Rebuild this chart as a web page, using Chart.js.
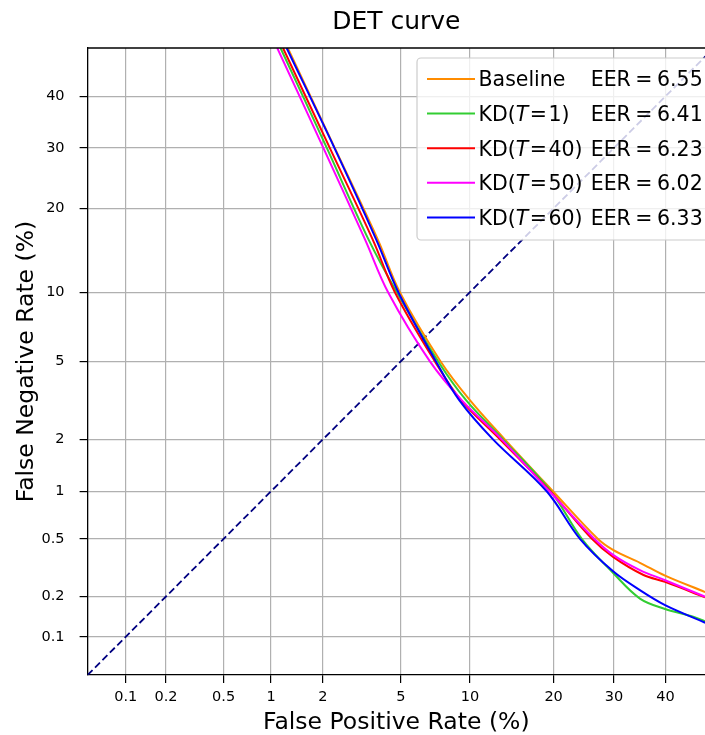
<!DOCTYPE html>
<html><head><meta charset="utf-8">
<script src="https://cdn.jsdelivr.net/npm/chart.js@4.4.0/dist/chart.umd.min.js"></script>
<style>html,body{margin:0;padding:0;background:#fff;}#wrap{width:705px;height:735px;}</style>
</head><body><div id="wrap"><canvas id="c" width="705" height="735"></canvas></div>
<script>
// ---- data (percent) ----
const tickValues = [0.1, 0.2, 0.5, 1, 2, 5, 10, 20, 30, 40];
const tickLabels = ['0.1', '0.2', '0.5', '1', '2', '5', '10', '20', '30', '40'];
const seriesNames = ['Baseline', 'KD(T=1)', 'KD(T=40)', 'KD(T=50)', 'KD(T=60)'];
const temperatures = [null, 1, 40, 50, 60];
const eerValues = ['6.55', '6.41', '6.23', '6.02', '6.33'];

const baselineFPR = [1.26, 2.32, 3.88, 4.95, 7.56, 10.0, 13.6, 19.9, 27.1, 29.9, 34.9, 39.9, 48.2];
const baselineFNR = [50, 30, 15.7, 10, 5, 3.23, 2, 1, 0.5, 0.42, 0.345, 0.281, 0.215];

const kd1FPR = [1.14, 2.10, 3.49, 4.79, 7.38, 9.65, 13.4, 19.6, 24.4, 29.9, 34.9, 39.9, 45.7, 48.2];
const kd1FNR = [50, 30, 15.7, 10, 5, 3.23, 2, 1, 0.5, 0.292, 0.193, 0.162, 0.142, 0.131];

const kd40FPR = [1.18, 2.18, 3.66, 4.69, 7.14, 9.2, 13.06, 19.5, 26.1, 29.9, 35.6, 39.9, 48.2];
const kd40FNR = [50, 30, 15.7, 10, 5, 3.23, 2, 1, 0.5, 0.377, 0.284, 0.254, 0.197];

const kd50FPR = [1.09, 2.01, 3.35, 4.35, 6.79, 9.26, 13.25, 19.4, 26.5, 29.9, 34.9, 39.9, 48.2];
const kd50FNR = [50, 30, 15.7, 10, 5, 3.23, 2, 1, 0.5, 0.389, 0.307, 0.261, 0.199];

const kd60FPR = [1.24, 2.31, 3.81, 4.87, 7.22, 9.05, 12.3, 19.0, 24.1, 29.9, 34.9, 39.9, 48.2];
const kd60FNR = [50, 30, 15.7, 10, 5, 3.23, 2, 1, 0.5, 0.300, 0.222, 0.173, 0.128];

const diagonalPct = [0.05, 50];

// ---- styles ----
const seriesColors = ['#ff8c00', '#32cd32', '#ff0000', '#ff00ff', '#0000ff'];
const FONT = "'DejaVu Sans', 'Liberation Sans', sans-serif";

// inverse normal CDF (probit) used as the axis transform
function probit(p) {
  const a = [-3.969683028665376e+01, 2.209460984245205e+02, -2.759285104469687e+02, 1.383577518672690e+02, -3.066479806614716e+01, 2.506628277459239e+00];
  const b = [-5.447609879822406e+01, 1.615858368580409e+02, -1.556989798598866e+02, 6.680131188771972e+01, -1.328068155288572e+01];
  const c = [-7.784894002430293e-03, -3.223964580411365e-01, -2.400758277161838e+00, -2.549671660007613e+00, 4.374664141464968e+00, 2.938163982698783e+00];
  const d = [7.784695709041462e-03, 3.224671290700398e-01, 2.445134137142996e+00, 3.754408661907416e+00];
  const pl = 0.02425, ph = 1 - pl;
  let q, r;
  if (p < pl) { q = Math.sqrt(-2 * Math.log(p)); return (((((c[0]*q+c[1])*q+c[2])*q+c[3])*q+c[4])*q+c[5]) / ((((d[0]*q+d[1])*q+d[2])*q+d[3])*q+1); }
  if (p <= ph) { q = p - 0.5; r = q*q; return (((((a[0]*r+a[1])*r+a[2])*r+a[3])*r+a[4])*r+a[5])*q / (((((b[0]*r+b[1])*r+b[2])*r+b[3])*r+b[4])*r+1); }
  q = Math.sqrt(-2 * Math.log(1 - p)); return -(((((c[0]*q+c[1])*q+c[2])*q+c[3])*q+c[4])*q+c[5]) / ((((d[0]*q+d[1])*q+d[2])*q+d[3])*q+1);
}
const toPts = (xs, ys) => xs.map((x, i) => ({ x: probit(x / 100), y: probit(ys[i] / 100) }));

const seriesData = [
  toPts(baselineFPR, baselineFNR),
  toPts(kd1FPR, kd1FNR),
  toPts(kd40FPR, kd40FNR),
  toPts(kd50FPR, kd50FNR),
  toPts(kd60FPR, kd60FNR)
];

const datasets = seriesData.map((pts, i) => ({
  label: seriesNames[i],
  data: pts,
  borderColor: seriesColors[i],
  backgroundColor: seriesColors[i],
  borderWidth: 2,
  pointRadius: 0,
  fill: false,
  tension: 0.35,
  order: 5 - i
}));
datasets.push({
  label: 'diag',
  data: toPts(diagonalPct, diagonalPct),
  borderColor: '#000080',
  borderWidth: 1.8,
  borderDash: [7, 3.5],
  pointRadius: 0,
  fill: false,
  order: 10
});

const tickObjs = () => tickValues.map(v => ({ value: probit(v / 100) }));

const topSpine = {
  id: 'topSpine',
  afterDatasetsDraw(chart) {
    const { ctx, chartArea } = chart;
    ctx.save();
    ctx.strokeStyle = '#000';
    ctx.lineWidth = 1.3;
    ctx.beginPath();
    ctx.moveTo(chartArea.left, chartArea.top);
    ctx.lineTo(chartArea.right, chartArea.top);
    ctx.stroke();
    ctx.restore();
  }
};

const detLegend = {
  id: 'detLegend',
  afterDatasetsDraw(chart) {
    const ctx = chart.ctx;
    ctx.save();
    const bx = 417, by = 58, bw = 320, bh = 182, rad = 4;
    ctx.beginPath();
    ctx.moveTo(bx + rad, by);
    ctx.lineTo(bx + bw - rad, by);
    ctx.arcTo(bx + bw, by, bx + bw, by + rad, rad);
    ctx.lineTo(bx + bw, by + bh - rad);
    ctx.arcTo(bx + bw, by + bh, bx + bw - rad, by + bh, rad);
    ctx.lineTo(bx + rad, by + bh);
    ctx.arcTo(bx, by + bh, bx, by + bh - rad, rad);
    ctx.lineTo(bx, by + rad);
    ctx.arcTo(bx, by, bx + rad, by, rad);
    ctx.closePath();
    ctx.fillStyle = 'rgba(255,255,255,0.8)';
    ctx.fill();
    ctx.strokeStyle = '#cccccc';
    ctx.lineWidth = 1.2;
    ctx.stroke();

    const fs = 20.5;
    const normal = fs + 'px ' + FONT;
    const italic = 'italic ' + fs + 'px ' + FONT;
    ctx.textBaseline = 'alphabetic';
    ctx.textAlign = 'left';
    ctx.fillStyle = '#000';
    for (let i = 0; i < seriesNames.length; i++) {
      const y = 79 + i * 34.6;
      ctx.strokeStyle = seriesColors[i];
      ctx.lineWidth = 2;
      ctx.beginPath();
      ctx.moveTo(427, y);
      ctx.lineTo(475, y);
      ctx.stroke();
      const base = y + 7.4;
      let x = 478.5;
      ctx.font = normal;
      if (temperatures[i] === null) {
        ctx.fillText(seriesNames[i], x, base);
      } else {
        ctx.fillText('KD(', x, base); x += ctx.measureText('KD(').width;
        ctx.font = italic;
        ctx.fillText('T', x, base); x += ctx.measureText('T').width + 1.5;
        ctx.font = normal;
        ctx.fillText('=', x, base); x += ctx.measureText('=').width + 1.5;
        ctx.fillText(temperatures[i] + ')', x, base);
      }
      ctx.font = normal;
      let ex = 590.7;
      ctx.fillText('EER', ex, base); ex += ctx.measureText('EER').width + 4.5;
      ctx.fillText('=', ex, base); ex += ctx.measureText('=').width + 4.5;
      ctx.fillText(eerValues[i], ex, base);
    }
    ctx.restore();
  }
};

new Chart(document.getElementById('c'), {
  type: 'line',
  data: { datasets },
  options: {
    responsive: false,
    devicePixelRatio: 1,
    animation: false,
    layout: { padding: 0 },
    plugins: {
      legend: { display: false },
      tooltip: { enabled: false },
      title: {
        display: true,
        fullSize: false,
        text: 'DET curve',
        color: '#000',
        font: { family: FONT, size: 25, weight: 'normal', lineHeight: 1.2 },
        padding: { top: 7.5, bottom: 10.5 }
      }
    },
    scales: {
      x: {
        type: 'linear',
        min: probit(0.0005),
        max: -0.046,
        afterBuildTicks: s => { s.ticks = tickObjs(); },
        afterFit: s => { s.height = 60; },
        ticks: {
          callback: (v, i) => tickLabels[i],
          autoSkip: false, maxRotation: 0, minRotation: 0,
          color: '#000', padding: 6,
          font: { family: FONT, size: 14.5 }
        },
        grid: { color: '#b0b0b0', lineWidth: 1.2, tickColor: '#000', tickLength: 8, tickWidth: 1.2 },
        border: { color: '#000', width: 1.3 },
        title: { display: true, text: 'False Positive Rate (%)', color: '#000', padding: 0,
                 font: { family: FONT, size: 23.5, lineHeight: 1 } }
      },
      y: {
        type: 'linear',
        min: probit(0.0005),
        max: 0,
        afterBuildTicks: s => { s.ticks = tickObjs(); },
        afterFit: s => { s.width = 87.6; },
        ticks: {
          callback: (v, i) => tickLabels[i],
          autoSkip: false,
          color: '#000', padding: 15,
          font: { family: FONT, size: 14.5 }
        },
        grid: { color: '#b0b0b0', lineWidth: 1.2, tickColor: '#000', tickLength: 8, tickWidth: 1.2 },
        border: { color: '#000', width: 1.3 },
        title: { display: true, text: 'False Negative Rate (%)', color: '#000', padding: { top: 13, bottom: 0 },
                 font: { family: FONT, size: 23.5, lineHeight: 1.2 } }
      }
    }
  },
  plugins: [topSpine, detLegend]
});
</script>
</body></html>
